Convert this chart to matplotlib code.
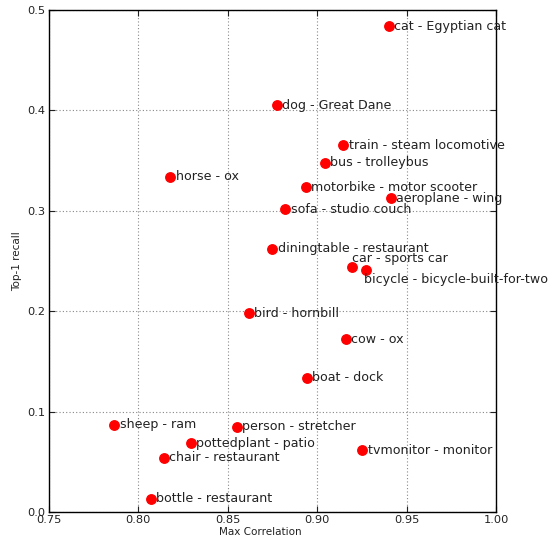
import matplotlib
matplotlib.use("Agg")
import matplotlib.pyplot as plt

labels = [
    "cat - Egyptian cat", "dog - Great Dane", "train - steam locomotive",
    "bus - trolleybus", "horse - ox", "motorbike - motor scooter",
    "aeroplane - wing", "sofa - studio couch", "diningtable - restaurant",
    "car - sports car", "bicycle - bicycle-built-for-two", "bird - hornbill",
    "cow - ox", "boat - dock", "sheep - ram", "person - stretcher",
    "pottedplant - patio", "chair - restaurant", "tvmonitor - monitor",
    "bottle - restaurant",
]
max_corr = [
    0.940, 0.8775, 0.9146, 0.9042, 0.8179, 0.8937, 0.9413, 0.8822, 0.8749,
    0.9193, 0.9271, 0.8617, 0.9161, 0.8943, 0.7865, 0.8550, 0.8294, 0.8141,
    0.9252, 0.8070,
]
top1_recall = [
    0.484, 0.405, 0.3655, 0.348, 0.3337, 0.3234, 0.3124, 0.3015, 0.2623,
    0.244, 0.2407, 0.1982, 0.172, 0.1335, 0.0867, 0.085, 0.0687, 0.0541,
    0.0614, 0.013,
]

# per-label text offsets in points (dx, dy) for crowded spots
offsets = {
    "car - sports car": (0, 6),
    "bicycle - bicycle-built-for-two": (-1.5, -6.5),
}

fig = plt.figure(figsize=(5.57, 5.36), dpi=100)
ax = fig.add_axes([0.088, 0.0448, 0.8025, 0.9365])

ax.plot(max_corr, top1_recall, "o", color="#ff0000", markeredgecolor="#ff0000",
        markersize=6.8, zorder=3)

for name, x, y in zip(labels, max_corr, top1_recall):
    dx, dy = offsets.get(name, (3.8, 0))
    ax.annotate(name, (x, y), xytext=(dx, dy), textcoords="offset points",
                ha="left", va="center", fontsize=9.1, color="#222222",
                family="DejaVu Sans", zorder=4, annotation_clip=False)

ax.set_xlim(0.75, 1.00)
ax.set_ylim(0.0, 0.5)
ax.set_xticks([0.75, 0.80, 0.85, 0.90, 0.95, 1.00])
ax.set_xticklabels(["0.75", "0.80", "0.85", "0.90", "0.95", "1.00"])
ax.set_yticks([0.0, 0.1, 0.2, 0.3, 0.4, 0.5])
ax.set_yticklabels(["0.0", "0.1", "0.2", "0.3", "0.4", "0.5"])

ax.grid(True, linestyle=(0, (1, 2)), color="#888888", linewidth=0.8)
ax.tick_params(direction="in", top=True, right=True, length=4, width=0.8,
               labelsize=8.2, pad=2.5, colors="#222222")
for s in ax.spines.values():
    s.set_linewidth(1.0)
    s.set_color("black")

ax.set_xlabel("Max Correlation", fontsize=7.5, color="#222222")
ax.xaxis.set_label_coords(0.472, -0.029, transform=ax.transAxes)
ax.xaxis.label.set_va("top")
ax.set_ylabel("Top-1 recall", fontsize=7.5, color="#222222")
ax.yaxis.set_label_coords(-0.061, 0.5, transform=ax.transAxes)

fig.savefig("out.png", dpi=100)
